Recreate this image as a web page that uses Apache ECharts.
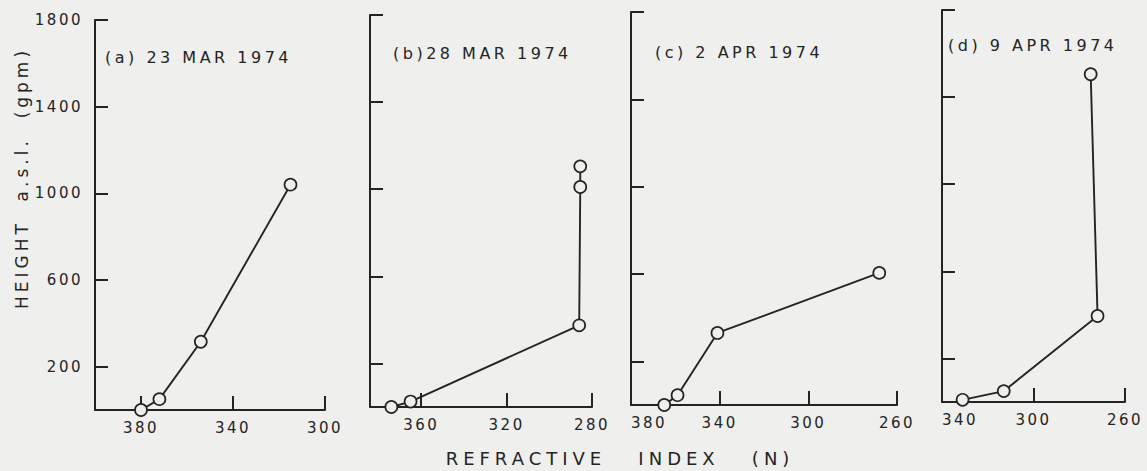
<!DOCTYPE html>
<html>
<head>
<meta charset="utf-8">
<script src="https://cdn.jsdelivr.net/npm/echarts@6/dist/echarts.min.js"></script>
<style>
html,body{margin:0;padding:0;background:#efefed;}
#chart{width:1147px;height:471px;}
#chart text{letter-spacing:2.5px;}
#chart text[style*="16px"]{letter-spacing:3.5px;}
#chart text[style*="17px"]{letter-spacing:4px;}
#chart text[style*="18px"]{letter-spacing:5px;}
</style>
</head>
<body>
<div id="chart"></div>
<script>
// Panel (a) 23 MAR 1974
const xA = [380, 372, 354, 315];
const yA = [0, 50, 315, 1040];
// Panel (b) 28 MAR 1974
const xB = [374, 365, 286, 285.5, 285.5];
const yB = [0, 25, 375, 1010, 1105];
// Panel (c) 2 APR 1974
const xC = [365, 359, 341, 268];
const yC = [0, 45, 330, 605];
// Panel (d) 9 APR 1974
const xD = [331, 313, 272, 275];
const yD = [10, 50, 395, 1505];

const titles = ['(a) 23 MAR 1974', '(b)28 MAR 1974', '(c) 2 APR 1974', '(d) 9 APR 1974'];
const yTicks = [200, 600, 1000, 1400, 1800];
const xTicksA = [380, 340, 300];
const xTicksB = [360, 320, 280];
const xTicksC = [380, 340, 300, 260];
const xTicksD = [340, 300, 260];
const xNameText = 'REFRACTIVE   INDEX   (N)';
const yNameText = 'HEIGHT  a.s.l.  (gpm)';

const ink = '#242424';
const bg = '#efefed';
const font = 'DejaVu Sans';

const grids = [
  {left: 95, top: 20, width: 230, height: 390},
  {left: 370, top: 15, width: 222, height: 392},
  {left: 631, top: 12, width: 266, height: 393},
  {left: 942, top: 10, width: 183, height: 392}
];
const xRanges = [[300, 400], [280, 384], [260, 380], [260, 340]];
const xTicks = [xTicksA, xTicksB, xTicksC, xTicksD];
const xs = [xA, xB, xC, xD];
const ys = [yA, yB, yC, yD];

const chart = echarts.init(document.getElementById('chart'), null, {renderer: 'svg'});

const option = {
  animation: false,
  backgroundColor: bg,
  grid: grids.map(g => Object.assign({containLabel: false}, g)),
  xAxis: grids.map((g, i) => ({
    type: 'value', gridIndex: i, inverse: true,
    min: xRanges[i][0], max: xRanges[i][1],
    splitLine: {show: false},
    axisLine: {show: true, onZero: false, lineStyle: {color: ink, width: 2}},
    axisTick: {show: true, inside: true, length: 14, customValues: xTicks[i], lineStyle: {color: ink, width: 2}},
    axisLabel: {show: true, customValues: xTicks[i], margin: 10, color: ink, fontSize: 15, fontFamily: font,
      formatter: v => String(v),
      alignMinLabel: (i >= 2) ? 'left' : 'center'}
  })),
  yAxis: grids.map((g, i) => ({
    type: 'value', gridIndex: i, min: 0, max: 1800,
    splitLine: {show: false},
    axisLine: {show: true, onZero: false, lineStyle: {color: ink, width: 2}},
    axisTick: {show: true, inside: true, length: 13, customValues: yTicks, lineStyle: {color: ink, width: 2}},
    axisLabel: {show: i === 0, customValues: yTicks, margin: 12, color: ink, fontSize: 15, fontFamily: font,
      formatter: v => String(v)}
  })),
  series: grids.map((g, i) => ({
    type: 'line', xAxisIndex: i, yAxisIndex: i,
    data: xs[i].map((x, k) => [x, ys[i][k]]),
    symbol: 'circle', symbolSize: 12, showSymbol: true,
    lineStyle: {color: ink, width: 1.9},
    itemStyle: {color: bg, borderColor: ink, borderWidth: 1.7},
    z: 3
  })),
  graphic: [
    {type: 'text', x: 105, y: 57, style: {text: titles[0], fill: ink, font: '16px "DejaVu Sans"', textAlign: 'left', textVerticalAlign: 'middle'}},
    {type: 'text', x: 393, y: 53, style: {text: titles[1], fill: ink, font: '16px "DejaVu Sans"', textAlign: 'left', textVerticalAlign: 'middle'}},
    {type: 'text', x: 655, y: 52, style: {text: titles[2], fill: ink, font: '16px "DejaVu Sans"', textAlign: 'left', textVerticalAlign: 'middle'}},
    {type: 'text', x: 948, y: 45, style: {text: titles[3], fill: ink, font: '16px "DejaVu Sans"', textAlign: 'left', textVerticalAlign: 'middle'}},
    {type: 'text', x: 620, y: 458, style: {text: xNameText, fill: ink, font: '18px "DejaVu Sans"', textAlign: 'center', textVerticalAlign: 'middle'}},
    {type: 'text', x: 22, y: 178, rotation: Math.PI / 2, style: {text: yNameText, fill: ink, font: '17px "DejaVu Sans"', textAlign: 'center', textVerticalAlign: 'middle'}}
  ]
};
chart.setOption(option);
</script>
</body>
</html>
